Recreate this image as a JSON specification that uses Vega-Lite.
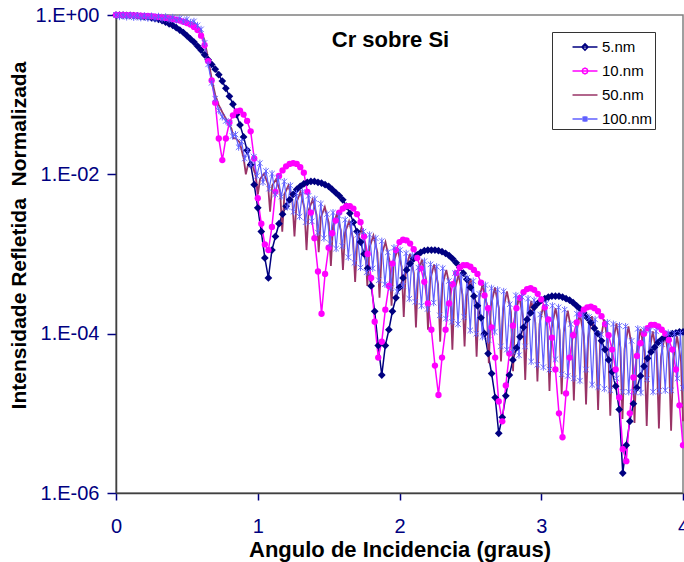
{
"$schema":"https://vega.github.io/schema/vega-lite/v6.json",
"width":567,"height":478,
"autosize":{"type":"none"},
"padding":{"left":116,"top":15,"right":1,"bottom":69},
"background":"white",
"title":{"text":"Cr sobre Si","orient":"top","anchor":"middle","offset":0,"dy":64,"baseline":"alphabetic","dx":-9,"font":"Liberation Sans","fontSize":22,"fontWeight":"bold","color":"#000000"},
"config":{
"view":{"stroke":"#808080","strokeWidth":1.5},
"font":"Liberation Sans",
"axis":{"grid":false,"domainColor":"#404040","domainWidth":1.5,"tickColor":"#000080","tickWidth":1.5,"labelColor":"#000080","labelFont":"Liberation Sans","labelFontSize":20,"titleFont":"Liberation Sans","titleFontSize":22,"titleFontWeight":"bold","titleColor":"#000000"},
"legend":{"orient":"none","legendX":436,"legendY":17,"title":null,"symbolSize":576,"symbolStrokeWidth":1.5,"labelFontSize":15,"labelFont":"Liberation Sans","labelColor":"#000000","strokeColor":"#333333","fillColor":"white","padding":2,"symbolOffset":18,"rowPadding":3,"labelOffset":4,"symbolOpacity":1}
},
"datasets":{
"n5":[{"x":0,"y":1},{"x":0.025,"y":1},{"x":0.05,"y":0.995},{"x":0.075,"y":0.991},{"x":0.1,"y":0.986},{"x":0.125,"y":0.979},{"x":0.15,"y":0.973},{"x":0.175,"y":0.964},{"x":0.2,"y":0.955},{"x":0.225,"y":0.944},{"x":0.25,"y":0.923},{"x":0.275,"y":0.902},{"x":0.3,"y":0.881},{"x":0.325,"y":0.851},{"x":0.35,"y":0.813},{"x":0.375,"y":0.776},{"x":0.4,"y":0.741},{"x":0.425,"y":0.692},{"x":0.45,"y":0.646},{"x":0.475,"y":0.603},{"x":0.5,"y":0.55},{"x":0.525,"y":0.501},{"x":0.55,"y":0.457},{"x":0.575,"y":0.407},{"x":0.6,"y":0.363},{"x":0.625,"y":0.316},{"x":0.65,"y":0.275},{"x":0.675,"y":0.24},{"x":0.7,"y":0.209},{"x":0.725,"y":0.178},{"x":0.75,"y":0.148},{"x":0.775,"y":0.12},{"x":0.8,"y":0.0955},{"x":0.825,"y":0.0759},{"x":0.85,"y":0.0562},{"x":0.875,"y":0.0417},{"x":0.9,"y":0.0295},{"x":0.925,"y":0.02},{"x":0.95,"y":0.0132},{"x":0.975,"y":0.00741},{"x":1,"y":0.0038},{"x":1.025,"y":0.00191},{"x":1.05,"y":0.000891},{"x":1.075,"y":0.000501},{"x":1.1,"y":0.00112},{"x":1.125,"y":0.00166},{"x":1.15,"y":0.0024},{"x":1.175,"y":0.00316},{"x":1.2,"y":0.00398},{"x":1.225,"y":0.00479},{"x":1.25,"y":0.00562},{"x":1.275,"y":0.00646},{"x":1.3,"y":0.00708},{"x":1.325,"y":0.00759},{"x":1.35,"y":0.00794},{"x":1.375,"y":0.00813},{"x":1.4,"y":0.00813},{"x":1.425,"y":0.00794},{"x":1.45,"y":0.00776},{"x":1.475,"y":0.00741},{"x":1.5,"y":0.00708},{"x":1.525,"y":0.00646},{"x":1.55,"y":0.00589},{"x":1.575,"y":0.00537},{"x":1.6,"y":0.00479},{"x":1.625,"y":0.00398},{"x":1.65,"y":0.00324},{"x":1.675,"y":0.00251},{"x":1.7,"y":0.00191},{"x":1.725,"y":0.00141},{"x":1.75,"y":0.001},{"x":1.775,"y":0.000661},{"x":1.8,"y":0.000398},{"x":1.825,"y":0.000191},{"x":1.85,"y":7.08e-5},{"x":1.875,"y":3.02e-5},{"x":1.9,"y":7.08e-5},{"x":1.925,"y":1.12e-4},{"x":1.95,"y":1.91e-4},{"x":1.975,"y":2.82e-4},{"x":2,"y":3.8e-4},{"x":2.025,"y":5.01e-4},{"x":2.05,"y":6.31e-4},{"x":2.075,"y":7.59e-4},{"x":2.1,"y":8.71e-4},{"x":2.125,"y":9.77e-4},{"x":2.15,"y":1.05e-3},{"x":2.175,"y":1.1e-3},{"x":2.2,"y":1.12e-3},{"x":2.225,"y":1.12e-3},{"x":2.25,"y":1.12e-3},{"x":2.275,"y":1.1e-3},{"x":2.3,"y":1.07e-3},{"x":2.325,"y":1.02e-3},{"x":2.35,"y":9.55e-4},{"x":2.375,"y":8.71e-4},{"x":2.4,"y":7.76e-4},{"x":2.425,"y":6.76e-4},{"x":2.45,"y":5.75e-4},{"x":2.475,"y":4.79e-4},{"x":2.5,"y":3.8e-4},{"x":2.525,"y":2.95e-4},{"x":2.55,"y":2.24e-4},{"x":2.575,"y":1.58e-4},{"x":2.6,"y":1e-4},{"x":2.625,"y":5.62e-5},{"x":2.65,"y":3.16e-5},{"x":2.675,"y":1.58e-5},{"x":2.7,"y":5.62e-6},{"x":2.725,"y":8.91e-6},{"x":2.75,"y":1.66e-5},{"x":2.775,"y":3.02e-5},{"x":2.8,"y":4.68e-5},{"x":2.825,"y":6.61e-5},{"x":2.85,"y":9.12e-5},{"x":2.875,"y":1.2e-4},{"x":2.9,"y":1.51e-4},{"x":2.925,"y":1.82e-4},{"x":2.95,"y":2.14e-4},{"x":2.975,"y":2.4e-4},{"x":3,"y":2.63e-4},{"x":3.025,"y":2.75e-4},{"x":3.05,"y":2.88e-4},{"x":3.075,"y":2.95e-4},{"x":3.1,"y":2.95e-4},{"x":3.125,"y":2.95e-4},{"x":3.15,"y":2.88e-4},{"x":3.175,"y":2.75e-4},{"x":3.2,"y":2.63e-4},{"x":3.225,"y":2.45e-4},{"x":3.25,"y":2.24e-4},{"x":3.275,"y":2.04e-4},{"x":3.3,"y":1.82e-4},{"x":3.325,"y":1.58e-4},{"x":3.35,"y":1.38e-4},{"x":3.375,"y":1.17e-4},{"x":3.4,"y":1e-4},{"x":3.425,"y":8.13e-5},{"x":3.45,"y":6.31e-5},{"x":3.475,"y":4.68e-5},{"x":3.5,"y":3.31e-5},{"x":3.525,"y":2.19e-5},{"x":3.55,"y":1.12e-5},{"x":3.575,"y":1.78e-6},{"x":3.6,"y":3.98e-6},{"x":3.625,"y":7.94e-6},{"x":3.65,"y":1.32e-5},{"x":3.675,"y":2.09e-5},{"x":3.7,"y":2.95e-5},{"x":3.725,"y":3.89e-5},{"x":3.75,"y":4.9e-5},{"x":3.775,"y":5.89e-5},{"x":3.8,"y":6.76e-5},{"x":3.825,"y":7.76e-5},{"x":3.85,"y":8.51e-5},{"x":3.875,"y":9.12e-5},{"x":3.9,"y":9.55e-5},{"x":3.925,"y":1e-4},{"x":3.95,"y":1.02e-4},{"x":3.975,"y":1.05e-4},{"x":4,"y":1.05e-4}],
"n10":[{"x":0,"y":1},{"x":0.025,"y":1},{"x":0.05,"y":1},{"x":0.075,"y":0.998},{"x":0.1,"y":0.993},{"x":0.125,"y":0.991},{"x":0.15,"y":0.986},{"x":0.175,"y":0.982},{"x":0.2,"y":0.977},{"x":0.225,"y":0.971},{"x":0.25,"y":0.964},{"x":0.275,"y":0.955},{"x":0.3,"y":0.944},{"x":0.325,"y":0.933},{"x":0.35,"y":0.92},{"x":0.375,"y":0.906},{"x":0.4,"y":0.891},{"x":0.425,"y":0.871},{"x":0.45,"y":0.851},{"x":0.475,"y":0.822},{"x":0.5,"y":0.794},{"x":0.525,"y":0.759},{"x":0.55,"y":0.708},{"x":0.575,"y":0.646},{"x":0.6,"y":0.55},{"x":0.625,"y":0.417},{"x":0.65,"y":0.263},{"x":0.675,"y":0.151},{"x":0.7,"y":0.0794},{"x":0.725,"y":0.0282},{"x":0.75,"y":0.0151},{"x":0.775,"y":0.0282},{"x":0.8,"y":0.0447},{"x":0.825,"y":0.055},{"x":0.85,"y":0.0617},{"x":0.875,"y":0.0631},{"x":0.9,"y":0.0562},{"x":0.925,"y":0.0468},{"x":0.95,"y":0.0347},{"x":0.975,"y":0.0158},{"x":1,"y":0.00501},{"x":1.025,"y":0.0024},{"x":1.05,"y":0.00132},{"x":1.075,"y":0.00112},{"x":1.1,"y":0.00219},{"x":1.125,"y":0.00603},{"x":1.15,"y":0.00955},{"x":1.175,"y":0.0112},{"x":1.2,"y":0.0126},{"x":1.225,"y":0.0135},{"x":1.25,"y":0.0138},{"x":1.275,"y":0.0135},{"x":1.3,"y":0.0123},{"x":1.325,"y":0.0105},{"x":1.35,"y":0.00603},{"x":1.375,"y":0.00331},{"x":1.4,"y":0.00158},{"x":1.425,"y":6.03e-4},{"x":1.45,"y":1.78e-4},{"x":1.475,"y":5.62e-4},{"x":1.5,"y":1.2e-3},{"x":1.525,"y":1.82e-3},{"x":1.55,"y":2.63e-3},{"x":1.575,"y":3.31e-3},{"x":1.6,"y":3.72e-3},{"x":1.625,"y":3.98e-3},{"x":1.65,"y":3.98e-3},{"x":1.675,"y":3.72e-3},{"x":1.7,"y":3.16e-3},{"x":1.725,"y":2.51e-3},{"x":1.75,"y":1.66e-3},{"x":1.775,"y":1e-3},{"x":1.8,"y":5.01e-4},{"x":1.825,"y":1.41e-4},{"x":1.85,"y":5.01e-5},{"x":1.875,"y":7.94e-5},{"x":1.9,"y":2e-4},{"x":1.925,"y":3.98e-4},{"x":1.95,"y":7.59e-4},{"x":1.975,"y":1.12e-3},{"x":2,"y":1.41e-3},{"x":2.025,"y":1.51e-3},{"x":2.05,"y":1.48e-3},{"x":2.075,"y":1.35e-3},{"x":2.1,"y":1.15e-3},{"x":2.125,"y":8.91e-4},{"x":2.15,"y":6.61e-4},{"x":2.175,"y":4.47e-4},{"x":2.2,"y":2.4e-4},{"x":2.225,"y":1.12e-4},{"x":2.25,"y":3.98e-5},{"x":2.275,"y":1.7e-5},{"x":2.3,"y":5.01e-5},{"x":2.325,"y":1.12e-4},{"x":2.35,"y":2.4e-4},{"x":2.375,"y":4.17e-4},{"x":2.4,"y":5.75e-4},{"x":2.425,"y":6.76e-4},{"x":2.45,"y":7.24e-4},{"x":2.475,"y":7.24e-4},{"x":2.5,"y":6.92e-4},{"x":2.525,"y":6.31e-4},{"x":2.55,"y":5.62e-4},{"x":2.575,"y":4.37e-4},{"x":2.6,"y":3.02e-4},{"x":2.625,"y":2.09e-4},{"x":2.65,"y":1.2e-4},{"x":2.675,"y":5.01e-5},{"x":2.7,"y":1.41e-5},{"x":2.725,"y":7.94e-6},{"x":2.75,"y":2.24e-5},{"x":2.775,"y":5.62e-5},{"x":2.8,"y":1.26e-4},{"x":2.825,"y":2.09e-4},{"x":2.85,"y":2.82e-4},{"x":2.875,"y":3.31e-4},{"x":2.9,"y":3.63e-4},{"x":2.925,"y":3.72e-4},{"x":2.95,"y":3.55e-4},{"x":2.975,"y":3.16e-4},{"x":3,"y":2.69e-4},{"x":3.025,"y":2.14e-4},{"x":3.05,"y":1.51e-4},{"x":3.075,"y":8.91e-5},{"x":3.1,"y":3.55e-5},{"x":3.125,"y":1e-5},{"x":3.15,"y":5.01e-6},{"x":3.175,"y":1.78e-5},{"x":3.2,"y":5.01e-5},{"x":3.225,"y":9.55e-5},{"x":3.25,"y":1.38e-4},{"x":3.275,"y":1.74e-4},{"x":3.3,"y":2e-4},{"x":3.325,"y":2.14e-4},{"x":3.35,"y":2.19e-4},{"x":3.375,"y":2.09e-4},{"x":3.4,"y":1.91e-4},{"x":3.425,"y":1.66e-4},{"x":3.45,"y":1.32e-4},{"x":3.475,"y":9.55e-5},{"x":3.5,"y":6.31e-5},{"x":3.525,"y":3.55e-5},{"x":3.55,"y":1.58e-5},{"x":3.575,"y":3.55e-6},{"x":3.6,"y":2.51e-6},{"x":3.625,"y":1e-5},{"x":3.65,"y":2.82e-5},{"x":3.675,"y":5.25e-5},{"x":3.7,"y":7.59e-5},{"x":3.725,"y":1e-4},{"x":3.75,"y":1.17e-4},{"x":3.775,"y":1.29e-4},{"x":3.8,"y":1.29e-4},{"x":3.825,"y":1.23e-4},{"x":3.85,"y":1.12e-4},{"x":3.875,"y":1e-4},{"x":3.9,"y":8.32e-5},{"x":3.925,"y":6.31e-5},{"x":3.95,"y":3.55e-5},{"x":3.975,"y":1.26e-5},{"x":4,"y":3.98e-6}],
"n50":[{"x":0,"y":1},{"x":0.1,"y":0.991},{"x":0.2,"y":0.977},{"x":0.3,"y":0.955},{"x":0.4,"y":0.912},{"x":0.45,"y":0.881},{"x":0.5,"y":0.841},{"x":0.55,"y":0.776},{"x":0.6,"y":0.631},{"x":0.625,"y":0.479},{"x":0.65,"y":0.282},{"x":0.675,"y":0.158},{"x":0.7,"y":0.1},{"x":0.725,"y":0.0741},{"x":0.75,"y":0.0603},{"x":0.775,"y":0.0501},{"x":0.8,"y":0.0417},{"x":0.815,"y":0.0372},{"x":0.83,"y":0.0282},{"x":0.845,"y":0.0282},{"x":0.873,"y":0.0251},{"x":0.901,"y":0.0158},{"x":0.916,"y":0.01},{"x":0.931,"y":0.0132},{"x":0.958,"y":0.0138},{"x":0.986,"y":0.00955},{"x":1.001,"y":0.00562},{"x":1.016,"y":0.00871},{"x":1.044,"y":0.0102},{"x":1.072,"y":0.00759},{"x":1.087,"y":0.00339},{"x":1.102,"y":0.00724},{"x":1.13,"y":0.00871},{"x":1.158,"y":0.00603},{"x":1.173,"y":0.00191},{"x":1.188,"y":0.00562},{"x":1.216,"y":0.00724},{"x":1.244,"y":0.00479},{"x":1.259,"y":0.00166},{"x":1.274,"y":0.00447},{"x":1.301,"y":0.00603},{"x":1.329,"y":0.0038},{"x":1.344,"y":0.00112},{"x":1.359,"y":0.00355},{"x":1.387,"y":0.00479},{"x":1.415,"y":0.00309},{"x":1.43,"y":0.00105},{"x":1.445,"y":0.00288},{"x":1.473,"y":0.00389},{"x":1.501,"y":0.00245},{"x":1.516,"y":7.08e-4},{"x":1.531,"y":0.00229},{"x":1.558,"y":0.00316},{"x":1.586,"y":0.002},{"x":1.601,"y":6.31e-4},{"x":1.616,"y":0.00186},{"x":1.644,"y":0.00257},{"x":1.672,"y":0.00158},{"x":1.687,"y":4.47e-4},{"x":1.702,"y":0.00148},{"x":1.73,"y":0.00209},{"x":1.758,"y":0.00129},{"x":1.773,"y":3.98e-4},{"x":1.788,"y":0.0012},{"x":1.816,"y":0.0017},{"x":1.844,"y":0.00105},{"x":1.859,"y":2.82e-4},{"x":1.874,"y":9.77e-4},{"x":1.901,"y":0.00141},{"x":1.929,"y":8.32e-4},{"x":1.944,"y":2.24e-4},{"x":1.959,"y":7.94e-4},{"x":1.987,"y":0.00115},{"x":2.015,"y":6.92e-4},{"x":2.03,"y":1.62e-4},{"x":2.045,"y":6.61e-4},{"x":2.073,"y":0.001},{"x":2.101,"y":5.75e-4},{"x":2.116,"y":1.2e-4},{"x":2.131,"y":5.5e-4},{"x":2.158,"y":8.51e-4},{"x":2.186,"y":4.9e-4},{"x":2.201,"y":1.12e-4},{"x":2.216,"y":4.68e-4},{"x":2.244,"y":7.41e-4},{"x":2.272,"y":4.17e-4},{"x":2.287,"y":7.94e-5},{"x":2.302,"y":3.98e-4},{"x":2.33,"y":6.31e-4},{"x":2.358,"y":3.63e-4},{"x":2.373,"y":6.31e-5},{"x":2.388,"y":3.47e-4},{"x":2.416,"y":5.5e-4},{"x":2.444,"y":3.09e-4},{"x":2.459,"y":6.92e-5},{"x":2.474,"y":2.95e-4},{"x":2.501,"y":4.9e-4},{"x":2.529,"y":2.69e-4},{"x":2.544,"y":5.13e-5},{"x":2.559,"y":2.57e-4},{"x":2.587,"y":4.27e-4},{"x":2.615,"y":2.34e-4},{"x":2.63,"y":4.27e-5},{"x":2.645,"y":2.24e-4},{"x":2.673,"y":3.8e-4},{"x":2.701,"y":2.09e-4},{"x":2.716,"y":4.47e-5},{"x":2.731,"y":2e-4},{"x":2.758,"y":3.39e-4},{"x":2.786,"y":1.86e-4},{"x":2.801,"y":3.39e-5},{"x":2.816,"y":1.78e-4},{"x":2.844,"y":2.95e-4},{"x":2.872,"y":1.58e-4},{"x":2.887,"y":2.63e-5},{"x":2.902,"y":1.51e-4},{"x":2.93,"y":2.57e-4},{"x":2.958,"y":1.38e-4},{"x":2.973,"y":2.51e-5},{"x":2.988,"y":1.32e-4},{"x":3.015,"y":2.29e-4},{"x":3.043,"y":1.23e-4},{"x":3.058,"y":1.91e-5},{"x":3.073,"y":1.17e-4},{"x":3.101,"y":2.09e-4},{"x":3.129,"y":1.1e-4},{"x":3.144,"y":1.74e-5},{"x":3.159,"y":1.05e-4},{"x":3.187,"y":1.95e-4},{"x":3.215,"y":1.02e-4},{"x":3.23,"y":1.45e-5},{"x":3.245,"y":9.77e-5},{"x":3.273,"y":1.78e-4},{"x":3.301,"y":9.12e-5},{"x":3.316,"y":1.29e-5},{"x":3.331,"y":8.71e-5},{"x":3.358,"y":1.66e-4},{"x":3.386,"y":8.32e-5},{"x":3.401,"y":1.1e-5},{"x":3.416,"y":7.94e-5},{"x":3.444,"y":1.51e-4},{"x":3.472,"y":7.41e-5},{"x":3.487,"y":9.33e-6},{"x":3.502,"y":7.08e-5},{"x":3.53,"y":1.35e-4},{"x":3.558,"y":6.76e-5},{"x":3.573,"y":8.51e-6},{"x":3.588,"y":6.46e-5},{"x":3.615,"y":1.23e-4},{"x":3.643,"y":6.17e-5},{"x":3.658,"y":7.59e-6},{"x":3.673,"y":5.89e-5},{"x":3.701,"y":1.15e-4},{"x":3.729,"y":5.75e-5},{"x":3.744,"y":6.92e-6},{"x":3.759,"y":5.5e-5},{"x":3.787,"y":1.07e-4},{"x":3.815,"y":5.37e-5},{"x":3.83,"y":6.46e-6},{"x":3.845,"y":5.13e-5},{"x":3.873,"y":1e-4},{"x":3.901,"y":4.9e-5},{"x":3.916,"y":6.03e-6},{"x":3.931,"y":4.68e-5},{"x":3.958,"y":9.33e-5},{"x":3.986,"y":4.47e-5},{"x":4,"y":7.94e-6}],
"n100":[{"x":0,"y":1},{"x":0.025,"y":0.955},{"x":0.05,"y":0.993},{"x":0.075,"y":0.944},{"x":0.1,"y":0.989},{"x":0.125,"y":0.933},{"x":0.15,"y":0.982},{"x":0.175,"y":0.923},{"x":0.2,"y":0.977},{"x":0.225,"y":0.912},{"x":0.25,"y":0.971},{"x":0.275,"y":0.902},{"x":0.3,"y":0.962},{"x":0.325,"y":0.891},{"x":0.35,"y":0.951},{"x":0.375,"y":0.877},{"x":0.4,"y":0.933},{"x":0.425,"y":0.861},{"x":0.45,"y":0.912},{"x":0.475,"y":0.836},{"x":0.5,"y":0.881},{"x":0.525,"y":0.804},{"x":0.55,"y":0.832},{"x":0.575,"y":0.741},{"x":0.6,"y":0.661},{"x":0.625,"y":0.447},{"x":0.65,"y":0.24},{"x":0.675,"y":0.141},{"x":0.7,"y":0.0891},{"x":0.725,"y":0.0631},{"x":0.75,"y":0.0525},{"x":0.775,"y":0.0468},{"x":0.8,"y":0.0437},{"x":0.822,"y":0.0302},{"x":0.843,"y":0.0316},{"x":0.865,"y":0.0219},{"x":0.886,"y":0.0257},{"x":0.908,"y":0.0158},{"x":0.929,"y":0.02},{"x":0.951,"y":0.0132},{"x":0.972,"y":0.0166},{"x":0.994,"y":0.00955},{"x":1.015,"y":0.0138},{"x":1.037,"y":0.00794},{"x":1.058,"y":0.011},{"x":1.08,"y":0.00661},{"x":1.101,"y":0.0102},{"x":1.123,"y":0.00562},{"x":1.144,"y":0.00912},{"x":1.166,"y":0.00525},{"x":1.187,"y":0.00813},{"x":1.209,"y":0.00389},{"x":1.23,"y":0.00724},{"x":1.252,"y":0.00339},{"x":1.273,"y":0.00575},{"x":1.295,"y":0.00295},{"x":1.316,"y":0.00603},{"x":1.338,"y":0.00251},{"x":1.359,"y":0.00537},{"x":1.381,"y":0.00257},{"x":1.402,"y":0.0049},{"x":1.424,"y":0.00186},{"x":1.445,"y":0.00427},{"x":1.467,"y":0.00158},{"x":1.488,"y":0.00316},{"x":1.51,"y":0.00135},{"x":1.531,"y":0.00331},{"x":1.553,"y":0.00117},{"x":1.574,"y":0.00302},{"x":1.596,"y":0.00126},{"x":1.617,"y":0.00269},{"x":1.639,"y":9.12e-4},{"x":1.66,"y":0.0024},{"x":1.682,"y":7.76e-4},{"x":1.703,"y":0.00174},{"x":1.725,"y":6.76e-4},{"x":1.746,"y":0.00191},{"x":1.768,"y":5.89e-4},{"x":1.789,"y":0.00174},{"x":1.811,"y":6.61e-4},{"x":1.832,"y":0.00158},{"x":1.854,"y":4.68e-4},{"x":1.875,"y":0.00145},{"x":1.897,"y":4.17e-4},{"x":1.918,"y":0.00105},{"x":1.94,"y":3.72e-4},{"x":1.961,"y":0.0012},{"x":1.983,"y":3.39e-4},{"x":2.004,"y":0.00112},{"x":2.026,"y":3.98e-4},{"x":2.047,"y":0.00102},{"x":2.069,"y":2.75e-4},{"x":2.09,"y":9.55e-4},{"x":2.112,"y":2.51e-4},{"x":2.133,"y":6.76e-4},{"x":2.155,"y":2.24e-4},{"x":2.176,"y":8.13e-4},{"x":2.198,"y":2.04e-4},{"x":2.219,"y":7.41e-4},{"x":2.241,"y":2.45e-4},{"x":2.262,"y":6.92e-4},{"x":2.284,"y":1.7e-4},{"x":2.305,"y":6.61e-4},{"x":2.327,"y":1.55e-4},{"x":2.348,"y":4.57e-4},{"x":2.37,"y":1.41e-4},{"x":2.391,"y":5.75e-4},{"x":2.413,"y":1.32e-4},{"x":2.434,"y":5.25e-4},{"x":2.456,"y":1.62e-4},{"x":2.477,"y":5.01e-4},{"x":2.499,"y":1.1e-4},{"x":2.52,"y":4.57e-4},{"x":2.542,"y":1e-4},{"x":2.563,"y":3.16e-4},{"x":2.585,"y":9.12e-5},{"x":2.606,"y":4.07e-4},{"x":2.628,"y":8.32e-5},{"x":2.649,"y":3.72e-4},{"x":2.671,"y":1.05e-4},{"x":2.692,"y":3.55e-4},{"x":2.714,"y":6.92e-5},{"x":2.735,"y":3.39e-4},{"x":2.757,"y":6.31e-5},{"x":2.778,"y":2.34e-4},{"x":2.8,"y":5.89e-5},{"x":2.821,"y":3.02e-4},{"x":2.843,"y":5.37e-5},{"x":2.864,"y":2.88e-4},{"x":2.886,"y":6.92e-5},{"x":2.907,"y":2.75e-4},{"x":2.929,"y":4.47e-5},{"x":2.95,"y":2.63e-4},{"x":2.972,"y":4.07e-5},{"x":2.993,"y":1.74e-4},{"x":3.015,"y":3.8e-5},{"x":3.036,"y":2.4e-4},{"x":3.058,"y":3.55e-5},{"x":3.079,"y":2.24e-4},{"x":3.101,"y":4.79e-5},{"x":3.122,"y":2.14e-4},{"x":3.144,"y":3.09e-5},{"x":3.165,"y":2e-4},{"x":3.187,"y":2.95e-5},{"x":3.208,"y":1.32e-4},{"x":3.23,"y":2.75e-5},{"x":3.251,"y":1.78e-4},{"x":3.273,"y":2.57e-5},{"x":3.294,"y":1.7e-4},{"x":3.316,"y":3.55e-5},{"x":3.337,"y":1.62e-4},{"x":3.359,"y":2.29e-5},{"x":3.38,"y":1.51e-4},{"x":3.402,"y":2.14e-5},{"x":3.423,"y":9.77e-5},{"x":3.445,"y":2.04e-5},{"x":3.466,"y":1.38e-4},{"x":3.488,"y":1.95e-5},{"x":3.509,"y":1.32e-4},{"x":3.531,"y":2.75e-5},{"x":3.552,"y":1.26e-4},{"x":3.574,"y":1.86e-5},{"x":3.595,"y":1.23e-4},{"x":3.617,"y":1.86e-5},{"x":3.638,"y":8.13e-5},{"x":3.66,"y":1.86e-5},{"x":3.681,"y":1.15e-4},{"x":3.703,"y":1.82e-5},{"x":3.724,"y":1.12e-4},{"x":3.746,"y":2.69e-5},{"x":3.767,"y":1.1e-4},{"x":3.789,"y":1.86e-5},{"x":3.81,"y":1.07e-4},{"x":3.832,"y":1.91e-5},{"x":3.853,"y":7.41e-5},{"x":3.875,"y":1.95e-5},{"x":3.896,"y":1.02e-4},{"x":3.918,"y":1.95e-5},{"x":3.939,"y":1e-4},{"x":3.961,"y":2.75e-5},{"x":3.982,"y":1e-4},{"x":4,"y":2.09e-5}],
"keys":[{"s":"5.nm"},{"s":"10.nm"},{"s":"50.nm"},{"s":"100.nm"}]
},
"encoding":{
"x":{"field":"x","type":"quantitative","scale":{"domain":[0,4],"nice":false,"zero":false},"axis":{"title":"Angulo de Incidencia (graus)","values":[0,1,2,3,4],"tickSize":7,"labelPadding":16,"labelFlush":false,"titlePadding":3}},
"y":{"field":"y","type":"quantitative","scale":{"type":"log","domain":[0.000001,1],"nice":false},"axis":{"title":"Intensidade Refletida\u00a0 Normalizada","titleFontSize":21,"values":[1,0.01,0.0001,0.000001],"tickSize":9,"labelPadding":8,"titlePadding":6,"titleY":220,"labelExpr":"datum.value > 0.5 ? '1.E+00' : datum.value > 0.005 ? '1.E-02' : datum.value > 0.00005 ? '1.E-04' : '1.E-06'"}}
},
"layer":[
{"data":{"name":"n5"},"mark":{"type":"line","color":"#000080","strokeWidth":1.5}},
{"data":{"name":"n10"},"mark":{"type":"line","color":"#ff00ff","strokeWidth":1.5}},
{"data":{"name":"n50"},"mark":{"type":"line","color":"#993366","strokeWidth":1.8}},
{"data":{"name":"n100"},"mark":{"type":"line","color":"#6060ff","strokeWidth":1.2}},
{"data":{"name":"n5"},"mark":{"type":"point","shape":"diamond","filled":true,"color":"#000080","size":60,"opacity":1}},
{"data":{"name":"n10"},"mark":{"type":"point","shape":"circle","filled":true,"color":"#ff00ff","size":40,"opacity":1}},
{"data":{"name":"n100"},"mark":{"type":"point","shape":"M-1,-1L1,1M-1,1L1,-1M0,-1.3L0,1.3","filled":false,"color":"#6060ff","size":30,"strokeWidth":0.9,"opacity":1}},
{"data":{"name":"keys"},"mark":{"type":"point","filled":false,"opacity":0,"size":576},
 "encoding":{"x":null,"y":null,
 "color":{"field":"s","type":"nominal","scale":{"domain":["5.nm","10.nm","50.nm","100.nm"],"range":["#000080","#ff00ff","#993366","#6060ff"]},"legend":{"labelExpr":"datum.label + '\u00a0\u00a0\u00a0\u00a0\u00a0\u00a0\u00a0\u00a0\u00a0\u00a0'","encode":{"symbols":{"update":{"fill":{"scale":"color","field":"value"}}}}}},
 "shape":{"field":"s","type":"nominal","legend":{"labelExpr":"datum.label + '\u00a0\u00a0\u00a0\u00a0\u00a0\u00a0\u00a0\u00a0\u00a0\u00a0'"},"scale":{"domain":["5.nm","10.nm","50.nm","100.nm"],"range":["M-1.04,0L1.04,0M0,-0.26L0.26,0L0,0.26L-0.26,0Z","M-1.04,0L1.04,0M0.24,0L0.17,0.17L0,0.24L-0.17,0.17L-0.24,0L-0.17,-0.17L0,-0.24L0.17,-0.17Z","M-1.04,0L1.04,0","M-1.04,0L1.04,0M-0.2,-0.2L0.2,0.2M-0.2,0.2L0.2,-0.2M0,-0.26L0,0.26"]}}}}
]
}
